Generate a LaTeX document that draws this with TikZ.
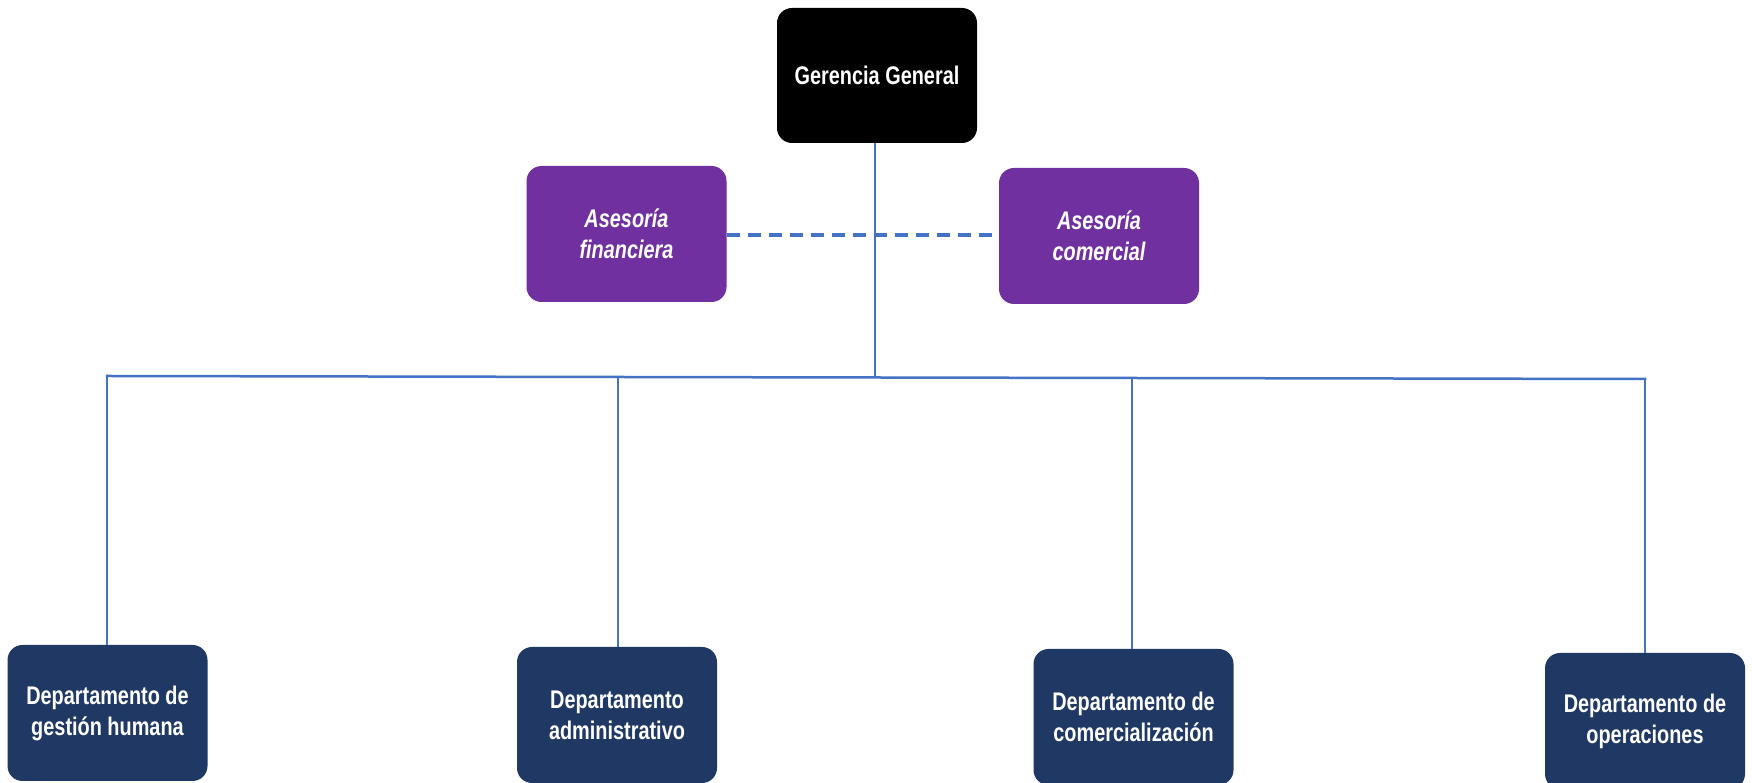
\documentclass[tikz,border=0pt]{standalone}
\usepackage{fontspec}
\setmainfont{Liberation Sans}[FakeStretch=0.78]
\definecolor{linkblue}{HTML}{4472C4}
\definecolor{advpurple}{HTML}{7030A0}
\definecolor{deptnavy}{HTML}{1F3864}
\begin{document}
\begin{tikzpicture}[x=1pt,y=1pt,
  boxbase/.style={rounded corners=15pt, align=center, text=white, inner sep=0pt,
    font=\bfseries\fontsize{25.5}{31}\selectfont},
  headbox/.style={boxbase, fill=black, minimum width=200pt, minimum height=135pt},
  advbox/.style={boxbase, fill=advpurple, minimum width=200pt, minimum height=136pt, font=\bfseries\itshape\fontsize{25.5}{31}\selectfont},
  deptbox/.style={boxbase, fill=deptnavy, minimum width=200pt, minimum height=136pt},
  solidlink/.style={draw=linkblue, line width=2.5pt},
  dashlink/.style={draw=linkblue, line width=3.5pt, dash pattern=on 13pt off 8pt}
]
\clip (0,0) rectangle (1752,783);
\fill[white] (0,0) rectangle (1752,783);

\node[headbox] (gg) at (877,707.5) {Gerencia General};
\node[advbox] (af) at (626.5,549) {Asesoría\\financiera};
\node[advbox] (ac) at (1099,547) {Asesoría\\comercial};

\node[deptbox] (d1) at (107.5,70) {Departamento de\\gestión humana};
\node[deptbox] (d2) at (617,68) {Departamento\\administrativo};
\node[deptbox] (d3) at (1133.5,66) {Departamento de\\comercialización};
\node[deptbox] (d4) at (1645,62) {Departamento de\\operaciones};

\coordinate (hl) at (107,407);
\coordinate (hr) at (1645,404);
\coordinate (hj) at (875,405.5);
\coordinate (h2) at (618,406.5);
\coordinate (h3) at (1132,405);
\coordinate (dy) at (0,548);

\draw[dashlink] (af.east |- dy) -- (ac.west |- dy);
\draw[solidlink] (gg.south -| hj) -- (hj);
\draw[solidlink, line cap=rect] (hl) -- (hr);
\draw[solidlink] (hl) -- (d1.north -| hl);
\draw[solidlink] (h2) -- (d2.north -| h2);
\draw[solidlink] (h3) -- (d3.north -| h3);
\draw[solidlink] (hr) -- (d4.north -| hr);
\end{tikzpicture}
\end{document}
